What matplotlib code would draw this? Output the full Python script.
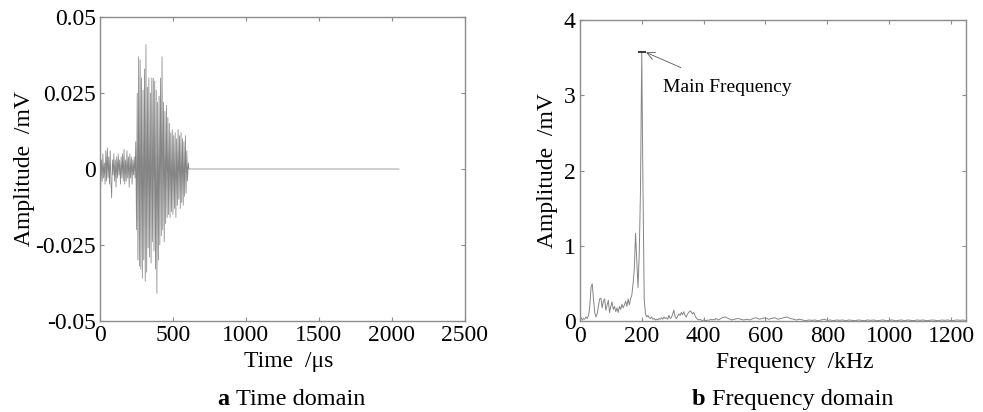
import numpy as np
import matplotlib
matplotlib.use("Agg")
import matplotlib.pyplot as plt

# Time domain AE waveform, one value every 5 us (mV)
time_step_us = 5
record_length_us = 2048
amp_time = [
    0.004, -0.006, 0.003, -0.004, 0.005, -0.003, 0.002, -0.005, 0.006, -0.004,
    0.007, -0.003, 0.004, -0.005, 0.006, -0.004, -0.0095, 0.003, -0.002, 0.005,
    -0.004, 0.003, -0.006, 0.004, -0.003, 0.005, -0.002, 0.003, -0.005, 0.004,
    -0.003, 0.005, -0.004, 0.0065, -0.005, 0.003, -0.004, 0.006, -0.003, 0.004,
    -0.006, 0.005, -0.003, 0.004, -0.005, 0.003, -0.002, 0.004, -0.003, 0.009,
    -0.020, 0.025, -0.030, 0.037, -0.032, 0.036, -0.033, 0.030, -0.036, 0.026,
    -0.030, 0.033, -0.037, 0.041, -0.034, 0.027, -0.026, 0.030, -0.029, 0.025,
    -0.031, 0.030, -0.024, 0.030, -0.027, 0.029, -0.033, 0.026, -0.041, 0.022,
    -0.030, 0.024, -0.025, 0.030, -0.022, 0.037, -0.020, 0.022, -0.024, 0.019,
    -0.018, 0.021, -0.016, 0.017, -0.015, 0.015, -0.016, 0.012, -0.014, 0.013,
    -0.015, 0.011, -0.013, 0.012, -0.016, 0.010, -0.012, 0.013, -0.010, 0.011,
    -0.013, 0.012, -0.011, 0.010, -0.012, 0.009, -0.009, 0.011, -0.008, 0.006,
    -0.004, 0.002, 0.0,
]

# Spectrum, 4 kHz steps up to 448 kHz, then 10 kHz steps from 460 kHz (mV)
freq_step_lo = 4
amp_freq_lo = [
    0.03, 0.05, 0.02, 0.04, 0.03, 0.06, 0.04, 0.08, 0.20, 0.45,
    0.50, 0.30, 0.12, 0.06, 0.10, 0.20, 0.30, 0.31, 0.18, 0.27,
    0.30, 0.15, 0.22, 0.28, 0.12, 0.20, 0.26, 0.16, 0.20, 0.13,
    0.18, 0.12, 0.20, 0.16, 0.23, 0.18, 0.22, 0.27, 0.20, 0.30,
    0.22, 0.30, 0.35, 0.50, 0.70, 1.17, 0.80, 0.45, 0.90, 1.75,
    3.57, 1.80, 0.30, 0.10, 0.06, 0.08, 0.05, 0.04, 0.06, 0.03,
    0.04, 0.02, 0.03, 0.02, 0.04, 0.03, 0.05, 0.03, 0.06, 0.04,
    0.05, 0.03, 0.08, 0.04, 0.05, 0.10, 0.15, 0.06, 0.04, 0.07,
    0.10, 0.08, 0.12, 0.09, 0.13, 0.08, 0.06, 0.10, 0.12, 0.14,
    0.13, 0.10, 0.12, 0.08, 0.05, 0.03, 0.02, 0.03, 0.02, 0.01,
    0.02, 0.015, 0.01, 0.02, 0.015, 0.02, 0.03, 0.02, 0.03, 0.02,
    0.04, 0.03, 0.02,
]
freq_start_hi = 460
freq_step_hi = 10
amp_freq_hi = [
    0.05, 0.06, 0.04, 0.02, 0.03, 0.04, 0.03, 0.02, 0.03, 0.02,
    0.04, 0.05, 0.03, 0.04, 0.05, 0.03, 0.04, 0.05, 0.03, 0.04,
    0.05, 0.06, 0.04, 0.03, 0.02, 0.03, 0.02, 0.01, 0.02, 0.015,
    0.02, 0.01, 0.02, 0.03, 0.015, 0.02, 0.01, 0.02, 0.015, 0.02,
    0.01, 0.02, 0.015, 0.01, 0.02, 0.015, 0.01, 0.02, 0.015, 0.02,
    0.01, 0.015, 0.02, 0.01, 0.015, 0.02, 0.01, 0.015, 0.02, 0.01,
    0.02, 0.015, 0.01, 0.02, 0.015, 0.02, 0.01, 0.015, 0.02, 0.015,
    0.01, 0.02, 0.015, 0.02, 0.01, 0.015, 0.02, 0.015, 0.02, 0.01,
]

time_ticks = [0, 500, 1000, 1500, 2000, 2500]
amp_ticks = [-0.05, -0.025, 0, 0.025, 0.05]
amp_tick_labels = ["-0.05", "-0.025", "0", "0.025", "0.05"]
freq_ticks = [0, 200, 400, 600, 800, 1000, 1200]
spec_ticks = [0, 1, 2, 3, 4]

# sampling grids
t = np.arange(len(amp_time)) * time_step_us
t = np.append(t, record_length_us)
a = np.append(amp_time, 0.0)
f = np.concatenate([np.arange(len(amp_freq_lo)) * freq_step_lo,
                    freq_start_hi + np.arange(len(amp_freq_hi)) * freq_step_hi])
s = np.concatenate([amp_freq_lo, amp_freq_hi])
ipk = int(np.argmax(s))

plt.rcParams["font.family"] = ["Liberation Serif", "DejaVu Serif"]
plt.rcParams["font.size"] = 17
line_col = "#858585"
frame_col = "#8c8c8c"

fig = plt.figure(figsize=(9.83, 4.12), dpi=100)
ax1 = fig.add_axes([0.1017, 0.2216, 0.3713, 0.7364])
ax2 = fig.add_axes([0.5899, 0.2197, 0.3933, 0.7318])


def style(ax):
    for sp in ax.spines.values():
        sp.set_color(frame_col)
        sp.set_linewidth(1.0)
    ax.tick_params(direction="in", length=3, width=0.8, color=frame_col,
                   top=True, right=True, pad=3, labelsize=17)


# a: time domain
ax1.plot(t, a, color=line_col, lw=0.55)
ax1.set_xlim(0, 2500)
ax1.set_ylim(-0.05, 0.05)
ax1.set_xticks(time_ticks)
ax1.set_yticks(amp_ticks)
ax1.set_yticklabels(amp_tick_labels)
ax1.set_xlabel("Time  /\u03bcs", labelpad=4)
ax1.set_ylabel("Amplitude  /mV", labelpad=0)
style(ax1)

# b: frequency domain
ax2.plot(f, s, color=line_col, lw=0.7)
ax2.plot([f[ipk]], [s[ipk]], marker="_", ms=6, mew=1.5, color="#404040")
ax2.annotate("Main Frequency", xy=(f[ipk] + 14, s[ipk]), xytext=(268, 3.1),
             fontsize=14, va="center", ha="left",
             arrowprops=dict(arrowstyle="->", color="#555555", lw=0.6,
                             shrinkA=16, shrinkB=0))
ax2.set_xlim(0, 1250)
ax2.set_ylim(0, 4)
ax2.set_xticks(freq_ticks)
ax2.set_yticks(spec_ticks)
ax2.set_xlabel("Frequency  /kHz", labelpad=4)
ax2.set_ylabel("Amplitude  /mV", labelpad=4)
style(ax2)

# x labels sit a bit right of the axes centre in the original
ax1.xaxis.label.set_x(0.518)
ax2.xaxis.label.set_x(0.556)

# captions under the panels
fig.text(0.2205, 0.004, "a", ha="left", va="bottom", fontsize=17.5,
         fontweight="bold")
fig.text(0.2405, 0.004, "Time domain", ha="left", va="bottom", fontsize=17.5)
fig.text(0.7035, 0.004, "b", ha="left", va="bottom", fontsize=17.5,
         fontweight="bold")
fig.text(0.7245, 0.004, "Frequency domain", ha="left", va="bottom",
         fontsize=17.5)

fig.savefig("out.png", dpi=100)
